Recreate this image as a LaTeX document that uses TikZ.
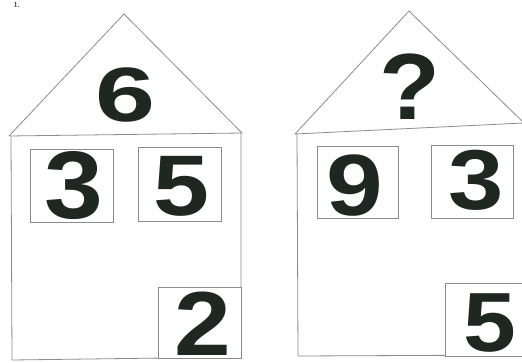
\documentclass[tikz,border=0pt]{standalone}
\usepackage{graphicx}
\usepackage{fontspec}
\setmainfont{Liberation Sans}
\newfontfamily\tagfont{Liberation Serif}
\usepackage{tikz}
\usetikzlibrary{positioning}
\definecolor{linegray}{HTML}{8C8C8C}
\definecolor{inkdark}{HTML}{1E2820}
\newcommand{\digsize}[1]{\fontsize{#1}{#1}\selectfont\bfseries}
\tikzset{
  wall/.style={draw=linegray, line width=0.8pt, line join=round},
  pane/.style={draw=linegray, line width=0.8pt, inner sep=0pt, fill=white},
  digit/.style={text=inkdark, inner sep=0pt, anchor=base, text depth=0pt},
  tag/.style={font=\tagfont\bfseries\fontsize{8}{8}\selectfont, text=black!65, inner sep=0pt},
}

\begin{document}
\begin{tikzpicture}[x=1pt, y=-1pt]
\clip (0,0) rectangle (522,363);
\fill[white] (0,0) rectangle (522,363);

\node[tag] (num) at (16.5,5) {1.};

%% left house
\draw[wall] (9,136) -- (124,14) -- (242,133) -- cycle;
\draw[wall] (11,137) -- (12,360) -- (241,357) -- (241,133);

\node[pane, minimum width=83pt, minimum height=73pt] (lwin1) at (71.5,185.5) {};
\node[pane, minimum width=83pt, minimum height=74pt] (lwin2) at (179.5,184) {};
\node[pane, minimum width=83pt, minimum height=71pt] (ldoor) at (199.5,322.5) {};

\node[digit, font=\digsize{77}] (ltop) at (125,122) {\scalebox{1.4}[1]{6}};
\node[digit, font=\digsize{96}] (lleft) at (74,219) {\scalebox{1.1}[1]{3}};
\node[digit, font=\digsize{86}] (lright) at (181,216) {\scalebox{1.17}[1]{5}};
\node[digit, font=\digsize{91}, text height=65pt] (lbottom) at (203,355) {\scalebox{1.12}[1]{2}};

%% right house
\draw[wall] (295,134) -- (409,11) -- (524,123) -- cycle;
\draw[wall] (297,134) -- (298,356) -- (524,355) -- (524,123);

\node[pane, minimum width=81pt, minimum height=72pt] (rwin1) at (357.5,182) {};
\node[pane, minimum width=82pt, minimum height=73pt] (rwin2) at (472,181.5) {};
\node[pane, minimum width=83pt, minimum height=73pt] (rdoor) at (486.5,319.5) {};

\node[digit, font=\digsize{94}] (rtop) at (410,120) {\scalebox{1.06}[1]{?}};
\node[digit, font=\digsize{87}] (rleft) at (355,216) {\scalebox{1.17}[1]{9}};
\node[digit, font=\digsize{85}] (rright) at (476,210) {\scalebox{1.17}[1]{3}};
\node[digit, font=\digsize{84}, text height=60pt] (rbottom) at (490,352) {\scalebox{1.13}[1]{5}};

\end{tikzpicture}
\end{document}
